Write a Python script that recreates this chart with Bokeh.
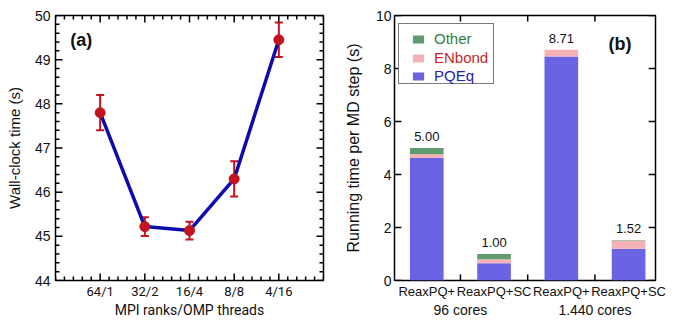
from bokeh.plotting import figure
from bokeh.layouts import row
from bokeh.models import (ColumnDataSource, FixedTicker, Whisker, TeeHead, LinearAxis,
                          Label, Legend, LegendItem, Range1d)
from bokeh.embed import file_html
from bokeh.resources import INLINE
from bokeh.core.properties import value

# ---------------- data ----------------
# Panel (a)
configs = ["64/1", "32/2", "16/4", "8/8", "4/16"]
wall_time = [47.80, 45.22, 45.13, 46.30, 49.45]
wall_err = [0.40, 0.21, 0.20, 0.40, 0.39]

# Panel (b)
methods = ["ReaxPQ+", "ReaxPQ+SC", "ReaxPQ+", "ReaxPQ+SC"]
core_groups = ["96 cores", "1.440 cores"]
pqeq = [4.62, 0.65, 8.45, 1.20]
enbond = [0.14, 0.15, 0.26, 0.30]
other = [0.24, 0.20, 0.00, 0.02]
totals_text = ["5.00", "1.00", "8.71", "1.52"]

FONT = "Liberation Sans"
RED = "#c4121f"
BLUE_LINE = "#0c0cae"
C_PQEQ = "#6a63e3"
C_ENB = "#f4b2b6"
C_OTH = "#5f9b6f"
INK = "#111111"
H = 320
FRAME_PX = 267  # approximate frame height used to convert tick lengths to data units


def style_axis(ax, size="14px", font=FONT):
    ax.axis_line_color = None
    ax.major_tick_in = 0
    ax.major_tick_out = 0
    ax.minor_tick_in = 0
    ax.minor_tick_out = 0
    ax.major_tick_line_color = None
    ax.minor_tick_line_color = None
    ax.major_label_text_font = font
    ax.major_label_text_font_size = size
    ax.major_label_text_color = INK
    ax.axis_label_text_font = FONT
    ax.axis_label_text_font_style = "normal"
    ax.axis_label_text_color = INK


def tick_whiskers(p, positions, edge, length, dim, width=1.5):
    """Inner tick marks drawn as head-less whiskers from the frame edge inwards."""
    if not positions:
        return
    src = ColumnDataSource(dict(base=list(positions),
                                lo=[min(edge, edge + length)] * len(positions),
                                hi=[max(edge, edge + length)] * len(positions)))
    p.add_layout(Whisker(base="base", lower="lo", upper="hi", source=src,
                         dimension=dim, line_color="black", line_width=width,
                         upper_head=None, lower_head=None))


def tick_segments(p, positions, edge, length, vertical, width=1.5):
    if not positions:
        return
    n = len(positions)
    if vertical:
        src = ColumnDataSource(dict(x0=list(positions), x1=list(positions),
                                    y0=[edge] * n, y1=[edge + length] * n))
    else:
        src = ColumnDataSource(dict(y0=list(positions), y1=list(positions),
                                    x0=[edge] * n, x1=[edge + length] * n))
    p.segment("x0", "y0", "x1", "y1", source=src, line_color="black", line_width=width)


# ---------------- panel (a) ----------------
xs = list(range(1, len(configs) + 1))
xr_a = Range1d(0, 6)
yr_a = Range1d(44, 50)
pa = figure(width=341, height=H, x_range=xr_a, y_range=yr_a,
            output_backend="svg", toolbar_location=None,
            min_border_left=55, min_border_right=18, min_border_top=15, min_border_bottom=36)
pa.grid.visible = False
pa.outline_line_color = "black"
pa.outline_line_width = 1.5
pa.outline_line_alpha = 1

y_major_a = list(range(44, 51))
x_minor_a = [round(i * 0.2, 1) for i in range(31)]
y_minor_a = [round(44 + i * 0.2, 1) for i in range(31)]
x_minor_a = [v for v in x_minor_a if v not in xs]
y_minor_a = [v for v in y_minor_a if v not in y_major_a]

pa.xaxis.ticker = FixedTicker(ticks=xs, minor_ticks=[])
pa.yaxis.ticker = FixedTicker(ticks=y_major_a, minor_ticks=[])
pa.xaxis.major_label_overrides = {x: c for x, c in zip(xs, configs)}
for ax in pa.xaxis:
    style_axis(ax, size="13px", font="Roboto")
    ax.major_label_standoff = 3
    ax.axis_label = "MPI ranks/OMP threads"
    ax.axis_label_text_font = "Roboto"
    ax.axis_label_text_font_size = "14px"
    ax.axis_label_standoff = 0
for ax in pa.yaxis:
    style_axis(ax, size="14px")
    ax.major_label_standoff = 5
    ax.axis_label = "Wall-clock time (s)"
    ax.axis_label_text_font_size = "15px"
    ax.axis_label_standoff = 9

ua_x = (xr_a.end - xr_a.start) / 268.0   # data units per pixel
ua_y = (yr_a.end - yr_a.start) / FRAME_PX
tick_segments(pa, xs, yr_a.start, 7 * ua_y, True)
tick_segments(pa, x_minor_a, yr_a.start, 4 * ua_y, True)
tick_segments(pa, y_major_a, xr_a.start, 7 * ua_x, False)
tick_segments(pa, y_minor_a, xr_a.start, 4 * ua_x, False)
tick_whiskers(pa, xs, yr_a.end, -7 * ua_y, "height")
tick_whiskers(pa, x_minor_a, yr_a.end, -4 * ua_y, "height")
tick_whiskers(pa, y_major_a, xr_a.end, -7 * ua_x, "width")
tick_whiskers(pa, y_minor_a, xr_a.end, -4 * ua_x, "width")

src_a = ColumnDataSource(dict(
    x=xs, y=wall_time,
    upper=[v + e for v, e in zip(wall_time, wall_err)],
    lower=[v - e for v, e in zip(wall_time, wall_err)],
))
pa.line("x", "y", source=src_a, color=BLUE_LINE, line_width=3.5)
wh = Whisker(base="x", upper="upper", lower="lower", source=src_a,
             line_color=RED, line_width=2,
             upper_head=TeeHead(size=8, line_color=RED, line_width=2),
             lower_head=TeeHead(size=8, line_color=RED, line_width=2))
pa.add_layout(wh)
pa.scatter("x", "y", source=src_a, size=10, color=RED)

pa.add_layout(Label(x=0.33, y=49.68, text="(a)", text_baseline="top",
                    text_font=FONT, text_font_size="18px", text_font_style="bold",
                    text_color=INK))

# ---------------- panel (b) ----------------
bx = list(range(1, len(methods) + 1))
totals = [a + b + c for a, b, c in zip(pqeq, enbond, other)]
xr_b = Range1d(0.52, 4.40)
yr_b = Range1d(0, 10)
pb = figure(width=338, height=H, x_range=xr_b, y_range=yr_b,
            output_backend="svg", toolbar_location=None,
            min_border_left=48, min_border_right=24, min_border_top=15, min_border_bottom=36)
pb.grid.visible = False
pb.outline_line_color = "black"
pb.outline_line_width = 1.5
pb.outline_line_alpha = 1

seps = [x + 0.5 for x in bx[:-1]]
y_major_b = [0, 2, 4, 6, 8, 10]
pb.xaxis.ticker = FixedTicker(ticks=bx, minor_ticks=[])
pb.yaxis.ticker = FixedTicker(ticks=y_major_b, minor_ticks=[])
pb.xaxis.major_label_overrides = {x: m for x, m in zip(bx, methods)}
for ax in pb.xaxis:
    style_axis(ax, size="13px")
    ax.major_label_standoff = 3
for ax in pb.yaxis:
    style_axis(ax, size="14px")
    ax.major_label_standoff = 3
    ax.axis_label = "Running time per MD step (s)"
    ax.axis_label_text_font_size = "16px"
    ax.axis_label_standoff = 11

group_pos = [1.5, 3.5]
grp_axis = LinearAxis(ticker=FixedTicker(ticks=group_pos, minor_ticks=[]))
style_axis(grp_axis, size="14px")
grp_axis.major_label_standoff = 0
grp_axis.major_label_overrides = {p: g for p, g in zip(group_pos, core_groups)}
pb.add_layout(grp_axis, "below")

ub_x = (xr_b.end - xr_b.start) / 266.0
ub_y = (yr_b.end - yr_b.start) / FRAME_PX
tick_whiskers(pb, y_major_b, xr_b.start, 7 * ub_x, "width")
tick_segments(pb, y_major_b, xr_b.end, -7 * ub_x, False)
tick_segments(pb, seps, yr_b.start, 6 * ub_y, True)
tick_whiskers(pb, seps, yr_b.end, -6 * ub_y, "height")

src_b = ColumnDataSource(dict(x=bx, pqeq=pqeq, enbond=enbond, other=other,
                              total=totals, label=totals_text))
rs = pb.vbar_stack(["pqeq", "enbond", "other"], x="x", width=0.5, source=src_b,
                   color=[C_PQEQ, C_ENB, C_OTH], line_color=None)
pb.text("x", "total", text="label", source=src_b, text_align="center",
        text_baseline="bottom", y_offset=-7, text_font=value(FONT),
        text_font_size="13px", text_color=INK)

# legend frame: a bordered legend with invisible swatches and blank labels,
# drawn behind the three coloured legend entries
ghost = pb.vbar(x="x", top="pqeq", width=0.5, source=src_b, fill_alpha=0, line_alpha=0)
frame_leg = Legend(items=[LegendItem(label=" ", renderers=[ghost]) for _ in range(3)],
                   location=(4, 196), padding=9, margin=0, spacing=1,
                   border_line_color="#7a7a7a", border_line_width=1.5, border_line_alpha=1,
                   background_fill_color="white", background_fill_alpha=1,
                   glyph_width=14, glyph_height=10, label_standoff=9,
                   label_text_font_size="9px", label_text_alpha=0,
                   label_width=53, label_height=13)
pb.add_layout(frame_leg)

leg_specs = [("Other", rs[2], "#2f7f3f", 233),
             ("ENbond", rs[1], "#cc1f2a", 214),
             ("PQEq", rs[0], "#2222b4", 196)]
for name, r, col, yloc in leg_specs:
    lg = Legend(items=[LegendItem(label=name, renderers=[r])], location=(17, yloc),
                padding=0, margin=0, spacing=0, border_line_color=None,
                background_fill_alpha=0, glyph_width=14, glyph_height=10,
                label_standoff=9, label_text_font=FONT, label_text_font_size="15px",
                label_text_color=col, label_height=10, label_width=20)
    pb.add_layout(lg)

pb.add_layout(Label(x=3.70, y=9.32, text="(b)", text_baseline="top",
                    text_font=FONT, text_font_size="18px", text_font_style="bold",
                    text_color=INK))

layout = row(pa, pb)
open("out.html", "w").write(file_html(layout, INLINE))
